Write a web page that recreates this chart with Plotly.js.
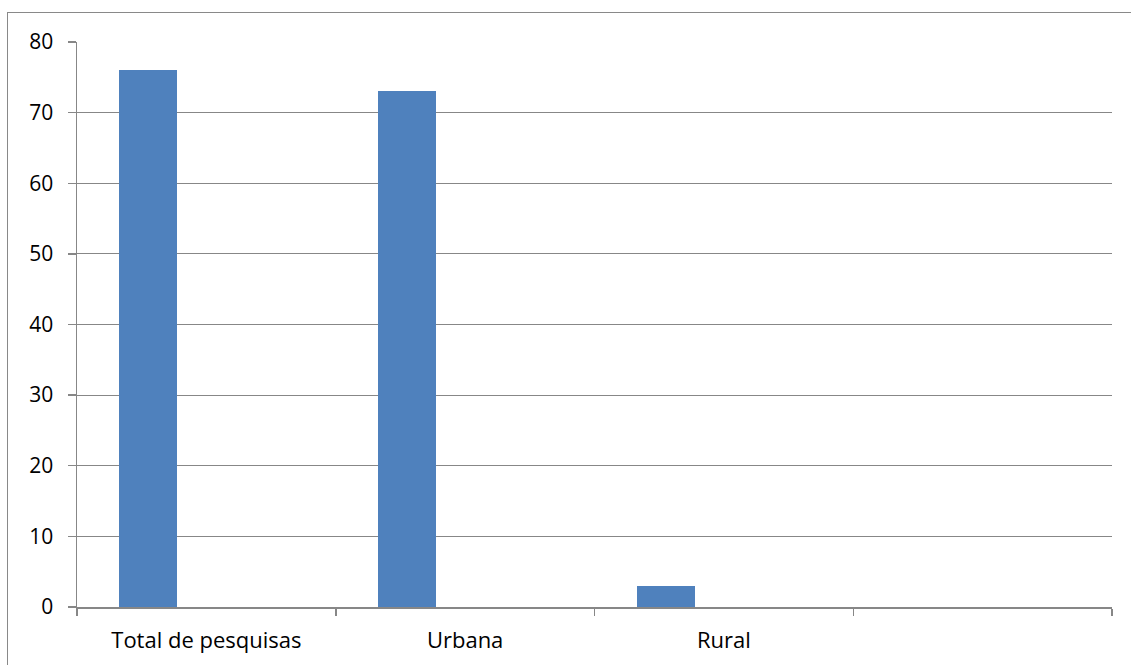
<!DOCTYPE html>
<html>
<head>
<meta charset="utf-8">
<script src="https://cdn.plot.ly/plotly-3.0.1.min.js"></script>
<style>
  html, body { margin: 0; padding: 0; background: #fff; overflow: hidden; }
  #wrap { position: relative; width: 1131px; height: 665px; }
  #chart { width: 1131px; height: 665px; }
  #frame { position: absolute; left: 7px; top: 12px; width: 2000px; height: 2000px;
           border: 1.3px solid #898989; pointer-events: none; box-sizing: border-box; }
</style>
</head>
<body>
<div id="wrap">
  <div id="chart"></div>
  <div id="frame"></div>
</div>
<script>
const categories = ['Total de pesquisas', 'Urbana', 'Rural'];
const values = [76, 73, 3];
const positions = [0, 1, 2];
const boundaries = [-0.5, 0.5, 1.5, 2.5, 3.5];
const yTicks = [0, 10, 20, 30, 40, 50, 60, 70, 80];

const gray = '#878787';
const fam = '"Open Sans", "Liberation Sans", sans-serif';
const yFont = { family: fam, size: 21, color: '#000' };
const xFont = { family: fam, size: 22, color: '#000' };

const trace = {
  type: 'bar',
  x: positions,
  y: values,
  width: 0.224,
  offset: -0.336,
  marker: { color: '#4F81BD', line: { width: 0 } },
  hoverinfo: 'x+y',
  showlegend: false
};

const layout = {
  width: 1131,
  height: 665,
  margin: { l: 77, r: 19, t: 42, b: 58, pad: 0 },
  paper_bgcolor: '#fff',
  plot_bgcolor: '#fff',
  font: yFont,
  showlegend: false,
  xaxis: {
    type: 'linear',
    range: [-0.5, 3.5],
    tickmode: 'array',
    tickvals: positions,
    ticktext: categories,
    ticks: '',
    showgrid: false,
    zeroline: false,
    showline: true,
    linecolor: gray,
    linewidth: 1.5,
    tickfont: xFont,
    ticklabelstandoff: 13,
    minor: {
      tickmode: 'array',
      tickvals: boundaries,
      ticks: 'outside',
      ticklen: 7,
      tickwidth: 1.5,
      tickcolor: gray,
      showgrid: false
    },
    fixedrange: true
  },
  yaxis: {
    range: [0, 80],
    tickmode: 'array',
    tickvals: yTicks,
    ticks: 'outside',
    ticklen: 8,
    tickwidth: 1.3,
    tickcolor: gray,
    showgrid: true,
    gridcolor: gray,
    gridwidth: 1.2,
    zeroline: false,
    showline: true,
    linecolor: gray,
    linewidth: 1.5,
    tickfont: yFont,
    ticklabelstandoff: 10,
    fixedrange: true
  },
  bargap: 0
};

Plotly.newPlot('chart', [trace], layout, { displayModeBar: false, staticPlot: true });
</script>
</body>
</html>
